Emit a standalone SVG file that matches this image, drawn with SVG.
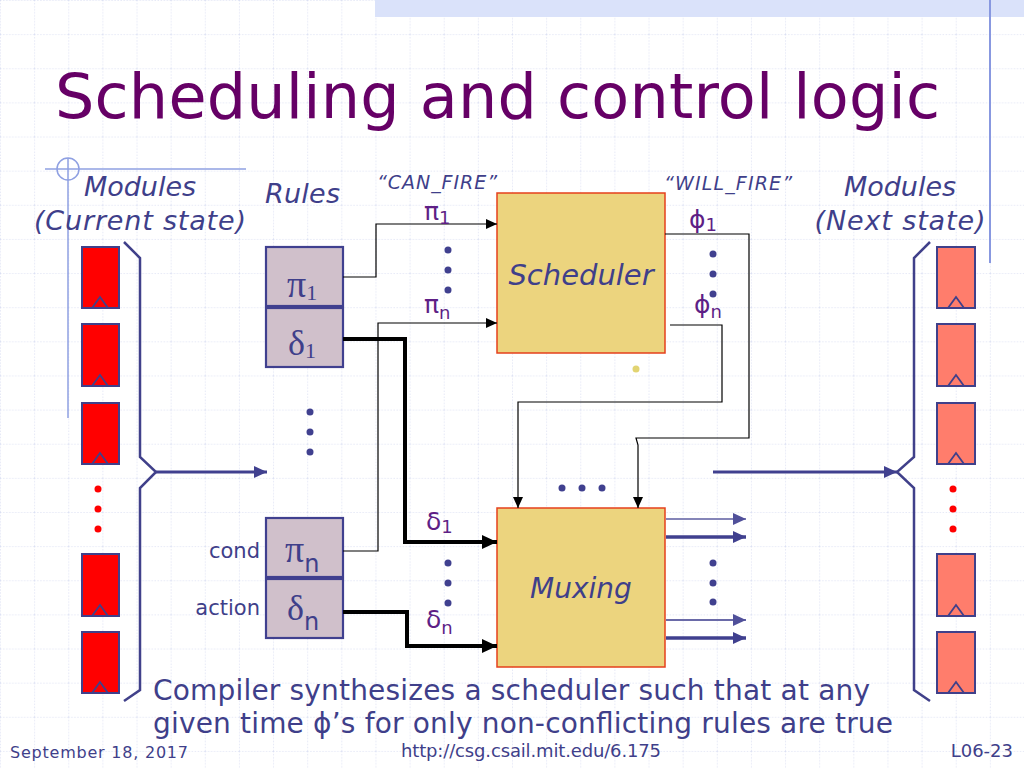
<svg xmlns="http://www.w3.org/2000/svg" width="1024" height="768" viewBox="0 0 1024 768">
<defs>
<pattern id="grid" x="0" y="0" width="34.1333" height="34.1333" patternUnits="userSpaceOnUse">
<path d="M0,0 V34.1333 M0,0 H34.1333" stroke="#cdd3ee" stroke-width="1" stroke-dasharray="1.5 1.5" fill="none"/>
</pattern>
<marker id="ah" markerUnits="userSpaceOnUse" markerWidth="12" markerHeight="10" refX="11" refY="5" orient="auto"><path d="M0,0 L11,5 L0,10 z" fill="#000"/></marker>
<marker id="ahb" markerUnits="userSpaceOnUse" markerWidth="16" markerHeight="14" refX="15" refY="7" orient="auto"><path d="M0,0 L15,7 L0,14 z" fill="#000"/></marker>
<marker id="ahl" markerUnits="userSpaceOnUse" markerWidth="14" markerHeight="12" refX="13" refY="6" orient="auto"><path d="M0,0 L13,6 L0,12 z" fill="#40408f"/></marker>
<marker id="ahs" markerUnits="userSpaceOnUse" markerWidth="14" markerHeight="12" refX="13" refY="6" orient="auto"><path d="M0,0 L13,6 L0,12 z" fill="#50509a"/></marker>
</defs>
<style>
.t{font-family:"DejaVu Sans","Liberation Sans",sans-serif;fill:#3f3f8a}
.it{font-style:italic}
.p{font-family:"DejaVu Sans","Liberation Sans",sans-serif;fill:#5e1f86}
.sr{font-family:"Liberation Serif","DejaVu Serif",serif;fill:#3f3f8a}
.mod{fill:#ff0000;stroke:#40408a;stroke-width:2}
.modn{fill:#ff7d6c;stroke:#40408a;stroke-width:2}
.clk{fill:none;stroke:#40408a;stroke-width:1.8}
.rule{fill:#d0c0cb;stroke:#40408f;stroke-width:2.2}
.blk{fill:#ecd47e;stroke:#e5401c;stroke-width:1.5}
.w{fill:none;stroke:#000;stroke-width:1.2}
.wb{fill:none;stroke:#000;stroke-width:4}
.br{fill:none;stroke:#40408a;stroke-width:2.5}
.dot{fill:#40408f}
.rd{fill:#ff0000}
</style>
<rect width="1024" height="768" fill="#ffffff"/>
<rect width="1024" height="768" fill="url(#grid)"/>
<rect x="375" y="0" width="649" height="17" fill="#dae2fa"/>
<line x1="990" y1="0" x2="990" y2="263" stroke="#8898e0" stroke-width="2"/>
<line x1="45" y1="169" x2="246" y2="169" stroke="#8fa0e2" stroke-width="1.5"/>
<line x1="68" y1="158" x2="68" y2="418" stroke="#8fa0e2" stroke-width="1.5"/>
<circle cx="68" cy="169" r="11" fill="none" stroke="#8fa0e2" stroke-width="1.5"/>

<text x="55" y="118" font-family="DejaVu Sans, Liberation Sans, sans-serif" font-size="62" fill="#660066" textLength="885">Scheduling and control logic</text>

<g id="labels">
<text class="t it" x="140" y="196" font-size="27" text-anchor="middle">Modules</text>
<text class="t it" x="140" y="230" font-size="27" text-anchor="middle" textLength="212">(Current state)</text>
<text class="t it" x="265" y="203" font-size="27" textLength="75">Rules</text>
<text class="t it" x="900" y="196" font-size="27" text-anchor="middle">Modules</text>
<text class="t it" x="900" y="230" font-size="27" text-anchor="middle" textLength="171">(Next state)</text>
<text class="t it" x="377" y="189" font-size="19" textLength="120">“CAN_FIRE”</text>
<text class="t it" x="664" y="190" font-size="19" textLength="128">“WILL_FIRE”</text>
<text class="t" x="260" y="558" font-size="21" text-anchor="end">cond</text>
<text class="t" x="260" y="615" font-size="21" text-anchor="end">action</text>
</g>

<g id="modules-current">
<rect class="mod" x="82" y="247" width="37" height="61"/><polyline class="clk" points="92,308 100,297 108,308"/>
<rect class="mod" x="82" y="324" width="37" height="62"/><polyline class="clk" points="92,386 100,375 108,386"/>
<rect class="mod" x="82" y="403" width="37" height="61"/><polyline class="clk" points="92,464 100,453 108,464"/>
<circle class="rd" cx="98" cy="489" r="3.5"/><circle class="rd" cx="98" cy="509" r="3.5"/><circle class="rd" cx="98" cy="529" r="3.5"/>
<rect class="mod" x="82" y="554" width="37" height="62"/><polyline class="clk" points="92,616 100,605 108,616"/>
<rect class="mod" x="82" y="632" width="37" height="61"/><polyline class="clk" points="92,693 100,682 108,693"/>
<polyline class="br" points="124,242 140,258 140,457 156,472 140,488 140,690 124,701"/>
</g>

<g id="modules-next">
<rect class="modn" x="937" y="247" width="38" height="61"/><polyline class="clk" points="948,308 956,297 964,308"/>
<rect class="modn" x="937" y="324" width="38" height="62"/><polyline class="clk" points="948,386 956,375 964,386"/>
<rect class="modn" x="937" y="403" width="38" height="61"/><polyline class="clk" points="948,464 956,453 964,464"/>
<circle class="rd" cx="953" cy="489" r="3.5"/><circle class="rd" cx="953" cy="509" r="3.5"/><circle class="rd" cx="953" cy="529" r="3.5"/>
<rect class="modn" x="937" y="554" width="38" height="62"/><polyline class="clk" points="948,616 956,605 964,616"/>
<rect class="modn" x="937" y="632" width="38" height="61"/><polyline class="clk" points="948,693 956,682 964,693"/>
<polyline class="br" points="930,242 914,258 914,457 897,472 914,488 914,690 930,701"/>
</g>

<g id="rule-1">
<rect class="rule" x="266" y="247" width="77" height="59"/>
<text class="sr" x="287" y="297" font-size="38">π<tspan font-size="22" dy="3">1</tspan></text>
<rect class="rule" x="266" y="308" width="77" height="59"/>
<text class="sr" x="288" y="355" font-size="36">δ<tspan font-size="22" dy="3">1</tspan></text>
</g>
<g id="rule-dots">
<circle class="dot" cx="310" cy="412" r="3.5"/><circle class="dot" cx="310" cy="432" r="3.5"/><circle class="dot" cx="310" cy="452" r="3.5"/>
</g>
<g id="rule-n">
<rect class="rule" x="266" y="518" width="77" height="59"/>
<text class="sr" x="285" y="562" font-size="38">π<tspan class="t" font-size="24" dy="10">n</tspan></text>
<rect class="rule" x="266" y="579" width="77" height="59"/>
<text class="sr" x="287" y="620" font-size="36">δ<tspan class="t" font-size="24" dy="10">n</tspan></text>
</g>

<g id="scheduler">
<rect class="blk" x="497" y="193" width="168" height="160"/>
<text class="t it" x="581" y="285" font-size="29" text-anchor="middle">Scheduler</text>
</g>
<g id="muxing">
<rect class="blk" x="497" y="508" width="168" height="159"/>
<text class="t it" x="581" y="598" font-size="28" text-anchor="middle">Muxing</text>
</g>

<g id="connectors">
<polyline class="w" points="343,277 376,277 376,224 497,224" marker-end="url(#ah)"/>
<polyline class="w" points="343,551 378,551 378,323 497,323" marker-end="url(#ah)"/>
<polyline class="wb" points="343,339 405,339 405,542 497,542" marker-end="url(#ahb)"/>
<polyline class="wb" points="343,612 407,612 407,646 497,646" marker-end="url(#ahb)"/>
<polyline class="w" points="665,234 749,234 749,438 636,438 638,445 638,508" marker-end="url(#ah)"/>
<polyline class="w" points="670,325 722,325 722,402 518,402 518,508" marker-end="url(#ah)"/>
<line x1="666" y1="519" x2="746" y2="519" stroke="#8585b8" stroke-width="2" marker-end="url(#ahs)"/>
<line x1="666" y1="537" x2="746" y2="537" stroke="#40408f" stroke-width="3.5" marker-end="url(#ahl)"/>
<line x1="666" y1="620" x2="746" y2="620" stroke="#6a6aa8" stroke-width="2" marker-end="url(#ahs)"/>
<line x1="666" y1="638" x2="746" y2="638" stroke="#40408f" stroke-width="3.5" marker-end="url(#ahl)"/>
<line x1="156" y1="472" x2="267" y2="472" stroke="#40408f" stroke-width="3" marker-end="url(#ahl)"/>
<line x1="713" y1="472" x2="897" y2="472" stroke="#40408f" stroke-width="3" marker-end="url(#ahl)"/>
</g>

<g id="signal-labels">
<text class="p" x="424" y="220" font-size="25">π<tspan font-size="18" dy="4">1</tspan></text>
<circle class="dot" cx="448" cy="250" r="3.5"/><circle class="dot" cx="448" cy="270" r="3.5"/><circle class="dot" cx="448" cy="290" r="3.5"/>
<text class="p" x="424" y="313" font-size="25">π<tspan font-size="18" dy="6">n</tspan></text>
<text class="p" x="689" y="228" font-size="25">ϕ<tspan font-size="18" dy="3">1</tspan></text>
<circle class="dot" cx="713" cy="254" r="3.5"/><circle class="dot" cx="713" cy="274" r="3.5"/><circle class="dot" cx="713" cy="294" r="3.5"/>
<text class="p" x="694" y="313" font-size="25">ϕ<tspan font-size="18" dy="5">n</tspan></text>
<circle cx="636" cy="369" r="3.5" fill="#e2d472"/>
<circle class="dot" cx="562" cy="488" r="3.5"/><circle class="dot" cx="582" cy="488" r="3.5"/><circle class="dot" cx="602" cy="488" r="3.5"/>
<text class="p" x="426" y="530" font-size="25">δ<tspan font-size="18" dy="3">1</tspan></text>
<circle class="dot" cx="448" cy="563" r="3.5"/><circle class="dot" cx="448" cy="583" r="3.5"/><circle class="dot" cx="448" cy="603" r="3.5"/>
<text class="p" x="426" y="628" font-size="25">δ<tspan font-size="18" dy="6">n</tspan></text>
<circle class="dot" cx="713" cy="563" r="3.5"/><circle class="dot" cx="713" cy="583" r="3.5"/><circle class="dot" cx="713" cy="602" r="3.5"/>
</g>

<g id="caption">
<text class="t" x="153" y="700" font-size="28" textLength="717">Compiler synthesizes a scheduler such that at any</text>
<text class="t" x="153" y="733" font-size="28" textLength="740">given time ϕ’s for only non-conflicting rules are true</text>
</g>
<g id="footer">
<text class="t" x="10" y="758" font-size="16" textLength="178">September 18, 2017</text>
<text class="t" x="401" y="757" font-size="18" textLength="260">http://csg.csail.mit.edu/6.175</text>
<text class="t" x="1013" y="757" font-size="18" text-anchor="end">L06-23</text>
</g>
</svg>
